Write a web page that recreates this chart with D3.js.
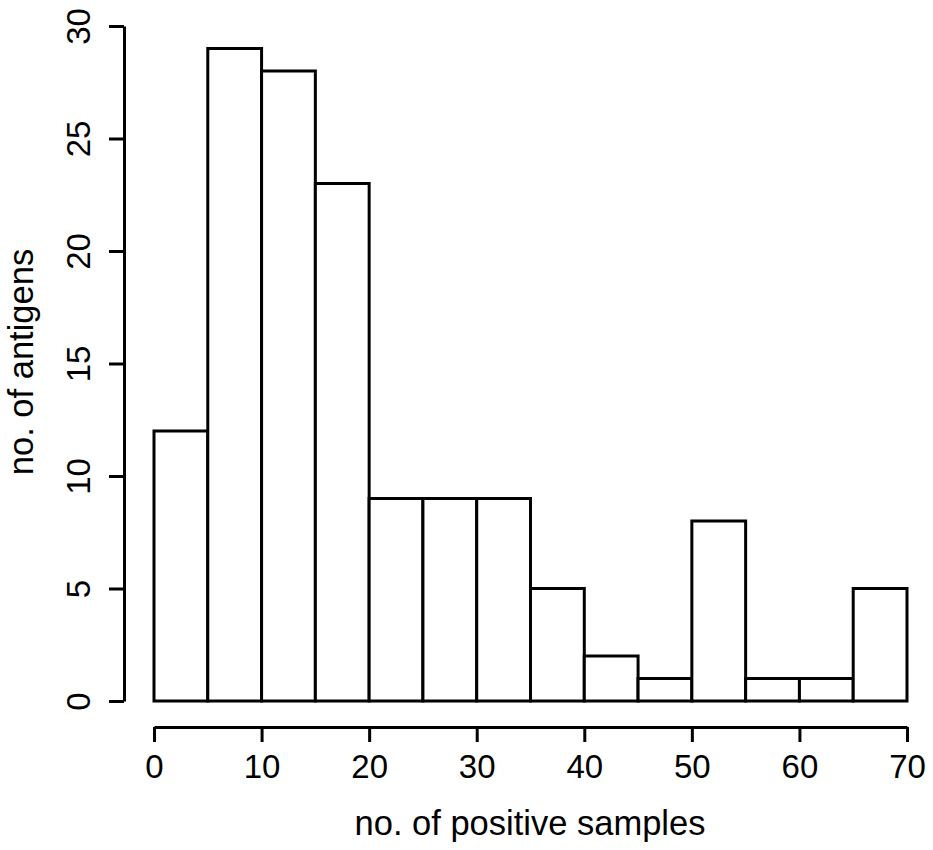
<!DOCTYPE html>
<html><head><meta charset="utf-8">
<script src="https://cdn.jsdelivr.net/npm/d3@7"></script>
<style>body{margin:0;background:#fff}svg{display:block}</style>
</head><body>
<script>
const binStarts = [0,5,10,15,20,25,30,35,40,45,50,55,60,65];
const binWidth = 5;
const counts = [12,29,28,23,9,9,9,5,2,1,8,1,1,5];
const xTicks = [0,10,20,30,40,50,60,70];
const yTicks = [0,5,10,15,20,25,30];

const W=933,H=850;
const svg=d3.select("body").append("svg").attr("width",W).attr("height",H);
const x=d3.scaleLinear().domain([0,70]).range([154,907]);
const y=d3.scaleLinear().domain([0,30]).range([701,26]);
const font="Liberation Sans, Arial, sans-serif";

svg.append("g").selectAll("rect").data(counts).join("rect")
  .attr("x",(d,i)=>x(binStarts[i]))
  .attr("y",d=>y(d))
  .attr("width",(d,i)=>x(binStarts[i]+binWidth)-x(binStarts[i]))
  .attr("height",d=>y(0)-y(d))
  .attr("fill","#fff").attr("stroke","#000").attr("stroke-width",3);

const xa=svg.append("g").attr("transform","translate(0,727)")
  .call(d3.axisBottom(x).tickValues(xTicks).tickSize(15).tickSizeOuter(0).tickPadding(12));
const ya=svg.append("g").attr("transform","translate(124,0)")
  .call(d3.axisLeft(y).tickValues(yTicks).tickSize(15).tickSizeOuter(0).tickPadding(0));
[xa,ya].forEach(a=>{
  a.select(".domain").attr("stroke","#000").attr("stroke-width",3);
  a.selectAll(".tick line").attr("stroke","#000").attr("stroke-width",3);
  a.selectAll("text").attr("font-family",font).attr("font-size",33).attr("fill","#000");
});
xa.selectAll("text").attr("dy",null).attr("y",51);
ya.selectAll(".tick text").attr("x",null).attr("dy",null)
  .attr("transform","translate(-34,0) rotate(-90)")
  .attr("text-anchor","middle").attr("y",0);

svg.append("text").attr("x",530).attr("y",835).attr("text-anchor","middle")
  .attr("font-family",font).attr("font-size",34.5).text("no. of positive samples");
svg.append("text").attr("transform","translate(33,362) rotate(-90)").attr("text-anchor","middle")
  .attr("font-family",font).attr("font-size",34.5).text("no. of antigens");
</script>
</body></html>
